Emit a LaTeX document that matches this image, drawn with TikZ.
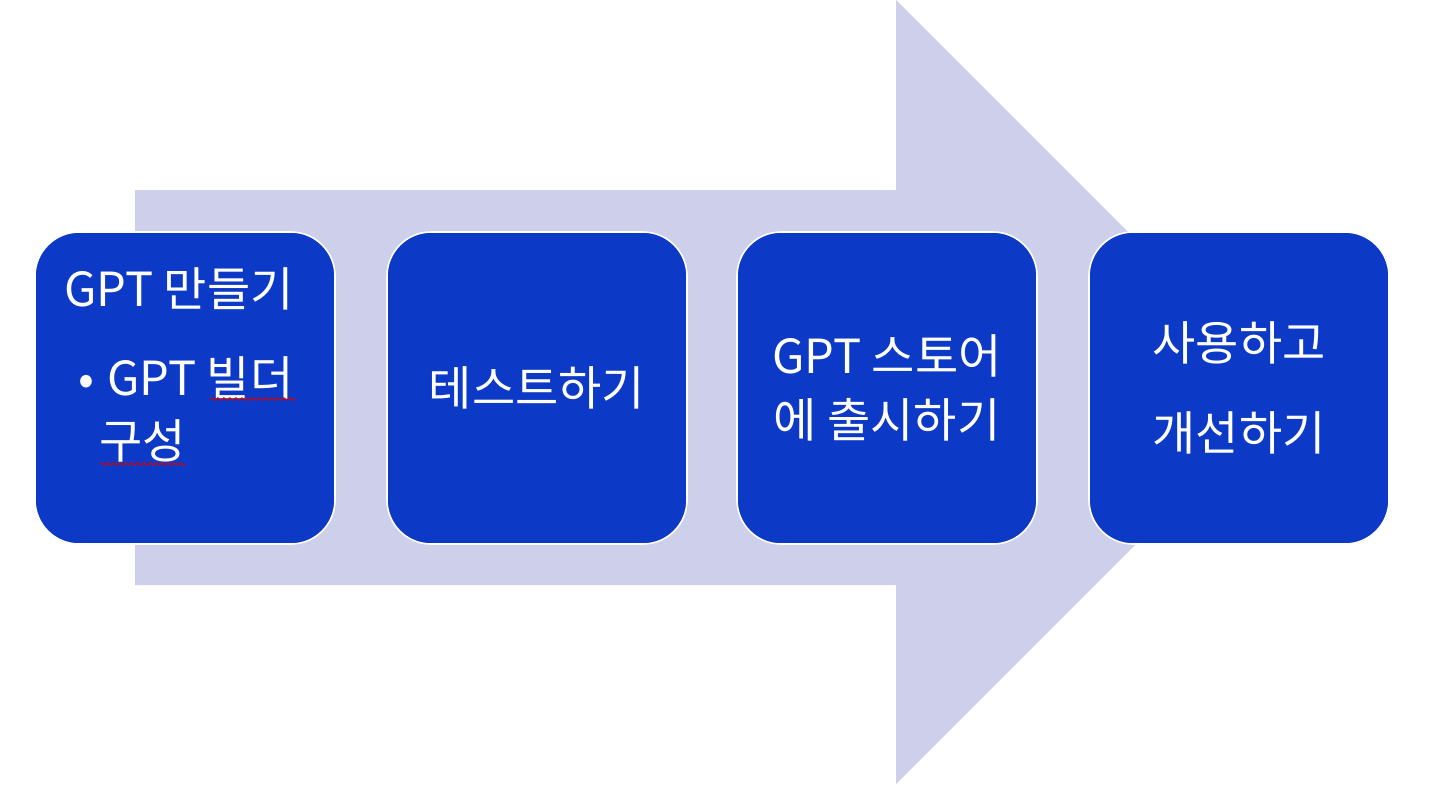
\documentclass[tikz,border=0pt]{standalone}
\usepackage{fontspec}
\setmainfont{Noto Sans CJK KR}
\usetikzlibrary{decorations.pathmorphing}
\definecolor{flowbg}{HTML}{CED0EB}
\definecolor{stageblue}{HTML}{0C3AC6}

\begin{document}
\begin{tikzpicture}[x=0.5pt, y=-0.5pt,
        stage/.style={rectangle, rounded corners=22pt, fill=stageblue, draw=white, line width=0.8pt,
            minimum width=150pt, minimum height=156pt, text=white, align=center,
            font=\fontsize{23.5}{32}\selectfont},
        stagetext/.style={text=white, inner sep=0pt, font=\fontsize{23.5}{32}\selectfont},
        spell/.style={draw=red!85!black, line width=0.5pt, decorate,
            decoration={snake, amplitude=0.6pt, segment length=3pt}}]
        \useasboundingbox (0, 0) rectangle (1446, 784);

        % big background arrow
        \fill[flowbg] (135, 190) -- (896, 190) -- (896, 0) -- (1288, 392)
            -- (896, 784) -- (896, 585) -- (135, 585) -- cycle;

        \node[stage] (make) at (185, 388) {};
        \node[stage] (test) at (537, 388) {테스트하기};
        \node[stage] (store) at (887, 388) {GPT 스토어\\에 출시하기};
        \node[stage] (improve) at (1239, 388) {사용하고\\[13pt]개선하기};

        % first box: heading and bullet
        \node[stagetext, anchor=base west] (makehead) at (64, 306) {GPT 만들기};
        \node[stagetext, anchor=base] (makedot) at (86, 395) {•};
        \node[stagetext, anchor=base west] (makeitem) at (107, 395) {GPT 빌더};
        \node[stagetext, anchor=base west] (makeitemb) at (99, 458) {구성};

        \coordinate (sa) at (210, 399);
        \coordinate (sb) at (296, 399);
        \coordinate (sc) at (100, 464);
        \coordinate (sd) at (186, 464);
        \draw[spell] (sa) -- (sb);
        \draw[spell] (sc) -- (sd);
\end{tikzpicture}
\end{document}
